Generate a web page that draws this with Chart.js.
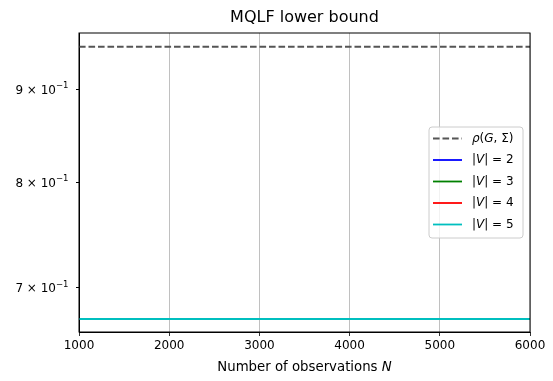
<!DOCTYPE html>
<html>
<head>
<meta charset="utf-8">
<script src="https://cdn.jsdelivr.net/npm/chart.js@4.4.1/dist/chart.umd.min.js"></script>
<style>
  html, body { margin: 0; padding: 0; background: #fff; }
  #wrap { width: 553px; height: 381px; }
</style>
</head>
<body>
<div id="wrap"><canvas id="mqlf" width="553" height="381"></canvas></div>
<script>
const observations = [1000, 2000, 3000, 4000, 5000, 6000];
const rhoValues = [0.950, 0.950, 0.950, 0.950, 0.950, 0.950];
const v2Values = [0.673, 0.673, 0.673, 0.673, 0.673, 0.673];
const v3Values = [0.673, 0.673, 0.673, 0.673, 0.673, 0.673];
const v4Values = [0.673, 0.673, 0.673, 0.673, 0.673, 0.673];
const v5Values = [0.673, 0.673, 0.673, 0.673, 0.673, 0.673];
const yTicks = [0.7, 0.8, 0.9];
const xTicks = [1000, 2000, 3000, 4000, 5000, 6000];

const FONT = "'DejaVu Sans', sans-serif";
Chart.defaults.font.family = FONT;
Chart.defaults.font.size = 12;
Chart.defaults.color = "#000";

const pts = vals => observations.map((n, i) => ({ x: n, y: vals[i] }));

// legend entries: label pieces as [text, italic]
const legendItems = [
    { color: "#555555", dash: [6.6, 2.9], parts: [["ρ", true], ["(", false], ["G", true], [", Σ)", false]] },
    { color: "#0000ff", dash: [], parts: [["|", false], ["V", true], ["| = 2", false]] },
    { color: "#008000", dash: [], parts: [["|", false], ["V", true], ["| = 3", false]] },
    { color: "#ff0000", dash: [], parts: [["|", false], ["V", true], ["| = 4", false]] },
    { color: "#00bfbf", dash: [], parts: [["|", false], ["V", true], ["| = 5", false]] }
];

function drawParts(ctx, parts, x, y, size) {
    parts.forEach(([txt, it]) => {
        ctx.font = (it ? "italic " : "") + size + "px " + FONT;
        ctx.fillText(txt, x, y);
        x += ctx.measureText(txt).width;
    });
}

const extras = {
    id: "extras",
    afterDatasetsDraw(chart) {
        const { ctx, chartArea: a } = chart;
        ctx.save();
        // frame
        ctx.strokeStyle = "#000";
        ctx.lineWidth = 1;
        ctx.strokeRect(a.left, a.top, a.right - a.left, a.bottom - a.top);
        ctx.restore();
    },
    afterDraw(chart) {
        const { ctx, chartArea: a } = chart;
        const yScale = chart.scales.y;
        ctx.save();
        ctx.fillStyle = "#000";
        // y tick labels like "9 × 10^-1"
        ctx.textBaseline = "alphabetic";
        yTicks.forEach(v => {
            const y = yScale.getPixelForValue(v) + 4.5;
            const base = Math.round(v * 10) + " × 10";
            const sup = "−1";
            ctx.font = "12px " + FONT;
            const wb = ctx.measureText(base).width;
            ctx.font = "8.5px " + FONT;
            const ws = ctx.measureText(sup).width;
            const right = a.left - 10.5;
            ctx.font = "12px " + FONT;
            ctx.fillText(base, right - ws - wb, y);
            ctx.font = "8.5px " + FONT;
            ctx.fillText(sup, right - ws, y - 5.5);
        });
        // legend box
        const bx = 429, by = 127, bw = 94, bh = 111;
        ctx.beginPath();
        ctx.roundRect(bx, by, bw, bh, 3);
        ctx.fillStyle = "rgba(255,255,255,0.8)";
        ctx.fill();
        ctx.strokeStyle = "#cccccc";
        ctx.lineWidth = 1;
        ctx.stroke();
        ctx.textBaseline = "middle";
        legendItems.forEach((item, i) => {
            const y = 138.5 + i * 21.5;
            ctx.beginPath();
            ctx.setLineDash(item.dash);
            ctx.strokeStyle = item.color;
            ctx.lineWidth = 1.8;
            ctx.moveTo(433, y);
            ctx.lineTo(462, y);
            ctx.stroke();
            ctx.setLineDash([]);
            ctx.fillStyle = "#000";
            drawParts(ctx, item.parts, 472, y, 12);
        });
        // x axis title with italic N
        const parts = [["Number of observations ", false], ["N", true]];
        let w = 0;
        parts.forEach(([t, it]) => { ctx.font = (it ? "italic " : "") + "13.3px " + FONT; w += ctx.measureText(t).width; });
        ctx.fillStyle = "#000";
        drawParts(ctx, parts, (a.left + a.right) / 2 - w / 2, 367.5, 13.3);
        ctx.restore();
    }
};

new Chart(document.getElementById("mqlf"), {
    type: "line",
    data: {
        datasets: [
            { label: "rho", data: pts(rhoValues), borderColor: "#555555", borderDash: [6.6, 2.9], order: 4 },
            { label: "|V| = 2", data: pts(v2Values), borderColor: "#0000ff", order: 3 },
            { label: "|V| = 3", data: pts(v3Values), borderColor: "#008000", order: 2 },
            { label: "|V| = 4", data: pts(v4Values), borderColor: "#ff0000", order: 1 },
            { label: "|V| = 5", data: pts(v5Values), borderColor: "#00bfbf", order: 0 }
        ]
    },
    options: {
        responsive: false,
        animation: false,
        elements: {
            point: { radius: 0 },
            line: { borderWidth: 1.8, tension: 0 }
        },
        layout: { padding: { left: 0, right: 23, top: 0, bottom: 0 } },
        plugins: {
            legend: { display: false },
            tooltip: { enabled: false },
            title: {
                display: true,
                fullSize: false,
                text: "MQLF lower bound",
                font: { size: 16, weight: "normal" },
                color: "#000",
                padding: { top: 8.4, bottom: 5.4 }
            }
        },
        scales: {
            x: {
                type: "linear",
                min: 1000,
                max: 6000,
                afterBuildTicks: s => { s.ticks = xTicks.map(v => ({ value: v })); },
                afterFit: s => { s.height = 49; },
                border: { display: true, color: "#000", width: 1 },
                grid: { color: "#b0b0b0", lineWidth: 0.8, tickColor: "#000", tickLength: 4 },
                ticks: { padding: 3, maxRotation: 0, callback: v => String(v) }
            },
            y: {
                type: "logarithmic",
                min: 0.662,
                max: 0.9667,
                afterBuildTicks: s => { s.ticks = yTicks.map(v => ({ value: v })); },
                afterFit: s => { s.width = 79; },
                border: { display: true, color: "#000", width: 1 },
                grid: { drawOnChartArea: false, tickColor: "#000", tickLength: 3 },
                ticks: { display: false }
            }
        }
    },
    plugins: [extras]
});
</script>
</body>
</html>
